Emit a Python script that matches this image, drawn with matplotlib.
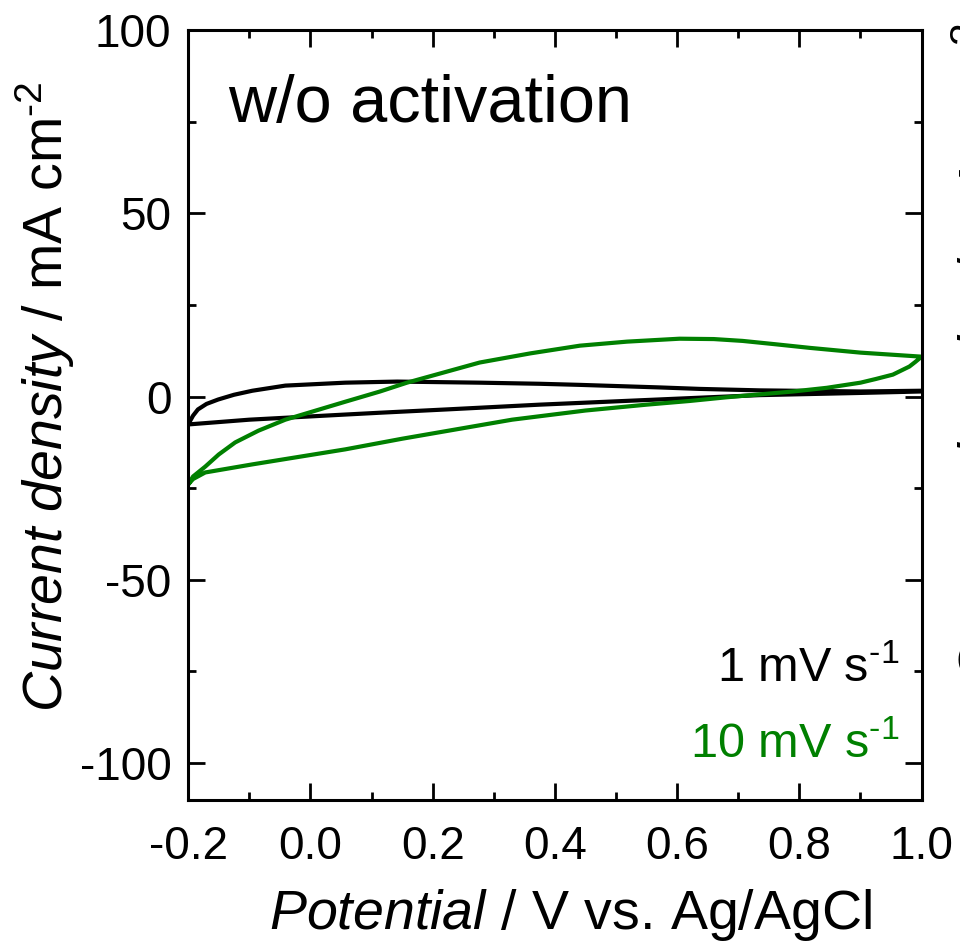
import matplotlib
matplotlib.use("Agg")
import matplotlib.pyplot as plt
from matplotlib.ticker import MultipleLocator, FormatStrFormatter

plt.rcParams["font.family"] = ["Liberation Sans", "DejaVu Sans"]
plt.rcParams["mathtext.fontset"] = "custom"
plt.rcParams["mathtext.rm"] = "Liberation Sans"
plt.rcParams["mathtext.it"] = "Liberation Sans:italic"
plt.rcParams["axes.unicode_minus"] = False

# Cyclic voltammograms, potential in V vs. Ag/AgCl, current density in mA cm^-2
# 1 mV/s scan: anodic sweep then cathodic return
e_1mv_fwd = [-0.200, -0.192, -0.184, -0.170, -0.151, -0.125, -0.095, -0.041, 0.057,
             0.142, 0.277, 0.375, 0.441, 0.572, 0.637, 0.735, 0.900, 1.000]
j_1mv_fwd = [-7.6, -5.2, -3.5, -2.0, -0.8, 0.5, 1.6, 3.0, 3.8,
             4.1, 3.8, 3.5, 3.2, 2.5, 2.1, 1.7, 1.4, 1.6]
e_1mv_rev = [1.000, 0.900, 0.735, 0.637, 0.375, 0.223, 0.114, 0.057, -0.100, -0.200]
j_1mv_rev = [1.4, 1.0, 0.4, -0.3, -2.2, -3.5, -4.4, -4.9, -6.3, -7.6]

# 10 mV/s scan
e_10mv_fwd = [-0.200, -0.192, -0.172, -0.150, -0.123, -0.085, -0.041, 0.057, 0.114,
              0.158, 0.277, 0.360, 0.441, 0.518, 0.604, 0.660, 0.707, 0.760,
              0.817, 0.900, 1.000]
j_10mv_fwd = [-24.0, -21.8, -19.1, -15.8, -12.5, -9.3, -6.3, -1.4, 1.4,
              3.8, 9.3, 11.8, 13.9, 15.0, 15.8, 15.7, 15.2, 14.3,
              13.3, 12.0, 10.9]
e_10mv_rev = [1.000, 0.990, 0.980, 0.953, 0.925, 0.900, 0.845, 0.790, 0.680,
              0.620, 0.550, 0.450, 0.330, 0.150, 0.057, -0.095, -0.172, -0.192,
              -0.200]
j_10mv_rev = [10.9, 9.5, 8.2, 6.0, 4.8, 3.8, 2.4, 1.4, -0.2,
              -1.2, -2.2, -3.8, -6.3, -11.5, -14.4, -18.5, -20.7, -22.5,
              -24.0]

scan_labels = [r"1 mV s$^{\text{-}1}$", r"10 mV s$^{\text{-}1}$"]
scan_colors = ["black", "#008000"]

fig = plt.figure(figsize=(9.6, 9.43), dpi=100)
ax = fig.add_axes([0.196, 0.152, 0.764, 0.816])

ax.plot(e_1mv_fwd + e_1mv_rev, j_1mv_fwd + j_1mv_rev, color=scan_colors[0], lw=3.0,
        solid_joinstyle="round")
ax.plot(e_10mv_fwd + e_10mv_rev, j_10mv_fwd + j_10mv_rev, color=scan_colors[1], lw=3.0,
        solid_joinstyle="round")

ax.set_xlim(-0.2, 1.0)
ax.set_ylim(-110, 100)
ax.xaxis.set_major_locator(MultipleLocator(0.2))
ax.xaxis.set_minor_locator(MultipleLocator(0.1))
ax.yaxis.set_major_locator(MultipleLocator(50))
ax.yaxis.set_minor_locator(MultipleLocator(25))
ax.xaxis.set_major_formatter(FormatStrFormatter("%.1f"))

for s in ax.spines.values():
    s.set_linewidth(2.2)
ax.tick_params(which="both", direction="in", top=True, right=True, width=2.0,
               labelsize=33)
ax.tick_params(which="major", length=12)
ax.tick_params(which="minor", length=6)
ax.tick_params(axis="x", pad=18)
ax.tick_params(axis="y", pad=12)

ax.set_xlabel(r"$\mathit{Potential}$ / V vs. Ag/AgCl", fontsize=40, labelpad=13)
ax.xaxis.label.set_x(0.521)
ax.set_ylabel(r"$\mathit{Current\ density}$ / mA cm$^{\text{-}2}$", fontsize=40)
ax.yaxis.set_label_coords(-0.151, 0.524)

ax.text(0.055, 0.8805, "w/o activation", transform=ax.transAxes, fontsize=48,
        ha="left", va="baseline")
ax.text(0.97, 0.153, scan_labels[0], transform=ax.transAxes, fontsize=35,
        color=scan_colors[0], ha="right", va="baseline")
ax.text(0.97, 0.0545, scan_labels[1], transform=ax.transAxes, fontsize=35,
        color=scan_colors[1], ha="right", va="baseline")

# y-axis title of the neighbouring panel, running off the right edge
fig.text(0.989, 0.624, r"$\mathit{Current\ density}$ / mA cm$^{\text{-}2}$",
         fontsize=42, rotation=90, ha="left", va="center")

fig.savefig("out.png", dpi=100)
